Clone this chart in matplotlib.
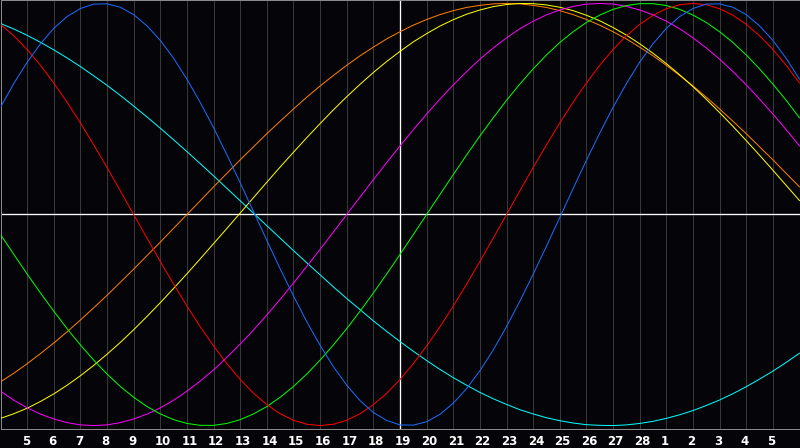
import matplotlib.pyplot as plt
import matplotlib.transforms as mtransforms


BG_COLOR = "#050409"
GRID_COLOR = "#383838"
FRAME_COLOR = "#8a8a8a"
TEXT_COLOR = "#ffffff"

# readings every half day, from the 4th to the 6th of next month
days = [4 + 0.5 * i for i in range(61)]
tick_days = list(range(5, 34))
tick_labels = [str(d) for d in range(5, 29)] + ["1", "2", "3", "4", "5"]
today = 19

physical = [0.508, 0.621, 0.721, 0.809, 0.882, 0.938, 0.976, 0.997, 0.998, 0.982,
            0.947, 0.894, 0.825, 0.740, 0.641, 0.531, 0.411, 0.283, 0.150, 0.014,
            -0.123, -0.257, -0.386, -0.508, -0.620, -0.721, -0.809, -0.882, -0.938, -0.976,
            -0.997, -0.998, -0.982, -0.947, -0.894, -0.825, -0.740, -0.642, -0.531, -0.411,
            -0.283, -0.150, -0.014, 0.123, 0.257, 0.386, 0.508, 0.620, 0.722, 0.809,
            0.882, 0.938, 0.976, 0.997, 0.998, 0.982, 0.947, 0.894, 0.825, 0.740,
            0.641]
emotional = [0.901, 0.847, 0.782, 0.707, 0.623, 0.532, 0.434, 0.330, 0.223, 0.112,
             0.0, -0.112, -0.223, -0.330, -0.434, -0.532, -0.623, -0.707, -0.782, -0.847,
             -0.901, -0.944, -0.975, -0.994, -1.0, -0.994, -0.975, -0.944, -0.901, -0.847,
             -0.782, -0.707, -0.623, -0.532, -0.434, -0.330, -0.223, -0.112, 0.0, 0.112,
             0.223, 0.330, 0.434, 0.532, 0.623, 0.707, 0.782, 0.847, 0.901, 0.944,
             0.975, 0.994, 1.0, 0.994, 0.975, 0.944, 0.901, 0.847, 0.782, 0.707,
             0.623]
intellectual = [-0.095, -0.189, -0.282, -0.372, -0.458, -0.541, -0.618, -0.690, -0.756, -0.815,
                -0.866, -0.910, -0.945, -0.972, -0.990, -0.999, -0.999, -0.990, -0.972, -0.945,
                -0.910, -0.866, -0.815, -0.756, -0.690, -0.618, -0.541, -0.458, -0.372, -0.282,
                -0.189, -0.095, 0.0, 0.095, 0.189, 0.282, 0.372, 0.458, 0.541, 0.618,
                0.690, 0.756, 0.815, 0.866, 0.910, 0.945, 0.972, 0.990, 0.999, 0.999,
                0.990, 0.972, 0.945, 0.910, 0.866, 0.815, 0.756, 0.690, 0.618, 0.541,
                0.458]
intuitive = [-0.837, -0.880, -0.916, -0.946, -0.969, -0.986, -0.997, -1.0, -0.997, -0.986,
             -0.969, -0.946, -0.916, -0.880, -0.837, -0.789, -0.736, -0.677, -0.614, -0.547,
             -0.476, -0.402, -0.325, -0.246, -0.165, -0.083, 0.0, 0.083, 0.165, 0.246,
             0.325, 0.402, 0.476, 0.547, 0.614, 0.677, 0.736, 0.789, 0.837, 0.880,
             0.916, 0.946, 0.969, 0.986, 0.997, 1.0, 0.997, 0.986, 0.969, 0.946,
             0.916, 0.880, 0.837, 0.789, 0.736, 0.677, 0.614, 0.547, 0.476, 0.402,
             0.325]
aesthetic = [-0.966, -0.944, -0.918, -0.886, -0.850, -0.809, -0.764, -0.715, -0.662, -0.606,
             -0.546, -0.483, -0.418, -0.350, -0.281, -0.210, -0.138, -0.066, 0.007, 0.080,
             0.153, 0.225, 0.295, 0.364, 0.431, 0.496, 0.558, 0.617, 0.673, 0.725,
             0.773, 0.818, 0.857, 0.893, 0.923, 0.949, 0.969, 0.985, 0.995, 1.0,
             0.999, 0.993, 0.982, 0.966, 0.944, 0.918, 0.886, 0.850, 0.809, 0.764,
             0.715, 0.662, 0.606, 0.546, 0.483, 0.418, 0.350, 0.281, 0.210, 0.138,
             0.066]
awareness = [-0.793, -0.752, -0.707, -0.659, -0.609, -0.556, -0.500, -0.442, -0.383, -0.321,
             -0.259, -0.195, -0.131, -0.065, 0.0, 0.065, 0.131, 0.195, 0.259, 0.321,
             0.383, 0.442, 0.500, 0.556, 0.609, 0.659, 0.707, 0.752, 0.793, 0.832,
             0.866, 0.897, 0.924, 0.947, 0.966, 0.981, 0.991, 0.998, 1.0, 0.998,
             0.991, 0.981, 0.966, 0.947, 0.924, 0.897, 0.866, 0.832, 0.793, 0.752,
             0.707, 0.659, 0.609, 0.556, 0.500, 0.442, 0.383, 0.321, 0.259, 0.195,
             0.131]
spiritual = [0.905, 0.879, 0.849, 0.816, 0.780, 0.742, 0.701, 0.657, 0.612, 0.564,
             0.514, 0.462, 0.409, 0.354, 0.298, 0.241, 0.183, 0.124, 0.065, 0.006,
             -0.053, -0.112, -0.171, -0.229, -0.286, -0.343, -0.398, -0.451, -0.504, -0.554,
             -0.602, -0.648, -0.692, -0.734, -0.773, -0.809, -0.843, -0.873, -0.900, -0.925,
             -0.945, -0.963, -0.977, -0.988, -0.996, -0.999, -1.0, -0.997, -0.990, -0.980,
             -0.966, -0.949, -0.929, -0.905, -0.879, -0.849, -0.816, -0.780, -0.742, -0.701,
             -0.657]

curves = [
    (spiritual, "#00ffff"),
    (awareness, "#ff8000"),
    (aesthetic, "#ffff00"),
    (intuitive, "#ff00ff"),
    (intellectual, "#00ff00"),
    (emotional, "#ff0000"),
    (physical, "#1a6dff"),
]

px = 0.72  # one pixel at dpi 100, in points

fig = plt.figure(figsize=(8, 4.48), dpi=100)
fig.set_facecolor(BG_COLOR)
ax = fig.add_axes([0.5 / 800, 19.5 / 448, 799 / 800, 428 / 448])
ax.set_facecolor(BG_COLOR)

for values, color in curves:
    ax.plot(days, values, color=color, linewidth=px, zorder=3)

ax.axhline(0, color="white", linewidth=px * 1.3, zorder=2)
ax.axvline(today, color="white", linewidth=px * 1.3, zorder=2)

ax.set_xlim(days[0], days[-1])
ax.set_ylim(-1.014, 1.014)
ax.set_yticks([])
ax.set_xticks(tick_days)
ax.set_xticklabels(tick_labels, fontsize=8.5, fontweight="bold", color=TEXT_COLOR)
ax.tick_params(axis="x", length=0, pad=4.5)
ax.grid(axis="x", color=GRID_COLOR, linewidth=px, zorder=1)
ax.set_axisbelow(True)

# labels start a few pixels left of their day line
shift = mtransforms.ScaledTranslation(-5.5 / 100, 0, fig.dpi_scale_trans)
for label in ax.get_xticklabels():
    label.set_horizontalalignment("left")
    label.set_transform(label.get_transform() + shift)

for spine in ax.spines.values():
    spine.set_color(FRAME_COLOR)
    spine.set_linewidth(px)

fig.savefig("out.png", dpi=100, facecolor=BG_COLOR)
